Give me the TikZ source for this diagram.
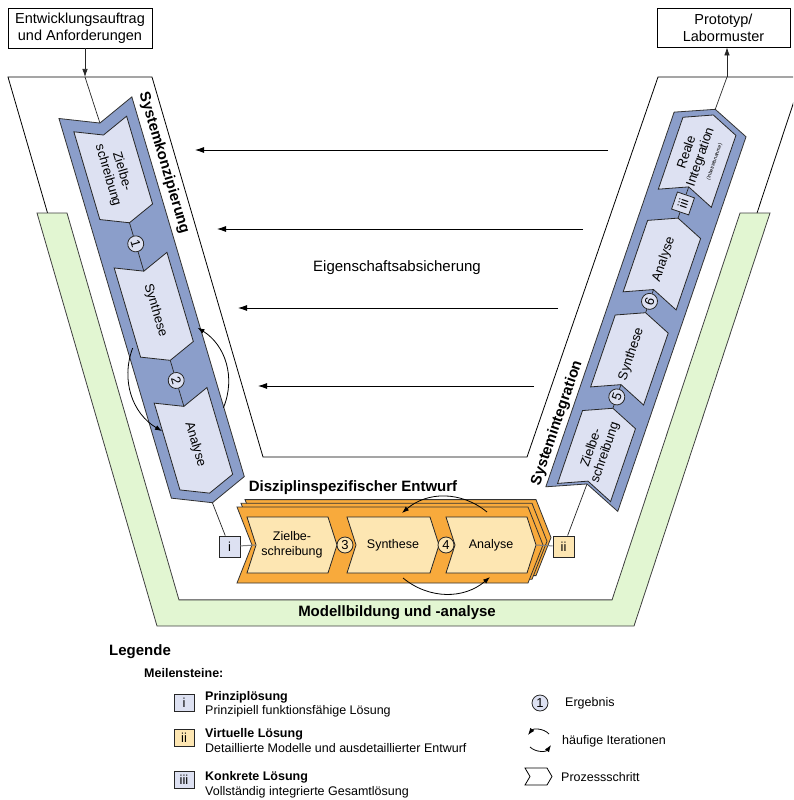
\documentclass[tikz,border=0pt]{standalone}
\usepackage{fontspec}
\setmainfont{Liberation Sans}
\usetikzlibrary{arrows.meta,calc}
\definecolor{bandblue}{RGB}{139,158,202}
\definecolor{boxblue}{RGB}{221,225,242}
\definecolor{bandorange}{RGB}{248,170,60}
\definecolor{boxorange}{RGB}{253,230,178}
\definecolor{bandgreen}{RGB}{226,246,210}
\newcommand\tang{0}
\newcommand\chevron[6]{%
  \draw[#2] (-#3,#4) -- (0,#4+#6) -- (#3,#4) -- (#3,#5) -- (0,#5+#6) -- (-#3,#5) -- cycle;
  \coordinate (#1-n) at (0,#4+#6);
  \coordinate (#1-t) at (0,#5+#6);
  \coordinate (#1) at (0,{(#4+#5+#6)/2});
}
\tikzset{
    link/.style={draw=black!85, line width=0.7pt},
    glink/.style={draw=black!50, line width=1pt},
    wband/.style={draw=black, line width=0.8pt, fill=white},
    gband/.style={draw=black!75, line width=0.8pt, fill=bandgreen},
    bband/.style={draw=black!80, line width=0.8pt, fill=bandblue},
    bbox/.style={draw=black!85, line width=0.8pt, fill=boxblue},
    oband/.style={draw=black!80, line width=0.8pt, fill=bandorange},
    obox/.style={draw=black!85, line width=0.8pt, fill=boxorange},
    chev/.style={draw=black, line width=0.8pt, fill=white},
    steptxt/.style={font=\fontsize{13}{14.5}\selectfont, align=center, rotate=\tang, inner sep=0pt},
    res/.style={circle, draw=black!85, line width=0.8pt, fill=#1, minimum size=16pt, inner sep=0pt,
        font=\fontsize{13}{13}\selectfont, rotate=\tang},
    res/.default=boxblue,
    ms/.style={draw=black!85, line width=0.8pt, fill=#1, minimum size=21pt, inner sep=0pt,
        font=\fontsize{13}{13}\selectfont},
    phase/.style={font=\bfseries\fontsize{15}{18}\selectfont, inner sep=0pt},
    iobox/.style={draw, line width=0.8pt, fill=white, align=center, inner sep=1pt,
        font=\fontsize{14.5}{17}\selectfont},
    check/.style={line width=0.8pt, -{Latex[length=9pt,width=6pt]}},
    iter/.style={line width=0.8pt, -{Latex[length=7pt,width=5pt]}},
    legtxt/.style={font=\fontsize{12.5}{14}\selectfont, anchor=west, inner sep=0pt},
    legbold/.style={legtxt, font=\bfseries\fontsize{12.5}{14}\selectfont}
}

\begin{document}
\begin{tikzpicture}[x=1pt,y=-1pt]
\useasboundingbox (0,0) rectangle (793,800);
\clip (0,0) rectangle (793,800);

\draw[wband] (8,77) -- (152,77) -- (263,457) -- (527,457) -- (658,77) -- (802,77) -- (629,600) -- (160,600) -- cycle;
\draw[gband] (37,213) -- (67,213) -- (179,600) -- (612,600) -- (740,213) -- (770,213) -- (634,626) -- (157,626) -- cycle;
\node[phase] (mod) at (397,613) {Modellbildung und -analyse};

\foreach \y/\xa/\xb in {150/608/195, 229/583/217, 308/558/238, 386/534/258}
    \draw[check] (\xa,\y) -- (\xb,\y);
\node[font=\fontsize{15}{18}\selectfont] (eig) at (397,268) {Eigenschaftsabsicherung};

\node[iobox, minimum width=144pt, minimum height=40pt] (inbox) at (80,28) {Entwicklungsauftrag\\und Anforderungen};
\node[iobox, minimum width=133pt, minimum height=39pt] (outbox) at (723.5,27.5) {Prototyp/\\Labormuster};

% Systemkonzipierung
\begin{scope}[shift={(95.4,107.7)}, rotate=16.5]
    \renewcommand\tang{-73.5}
    \chevron{lb}{bband}{38}{0}{396}{16}
    \chevron{lz}{bbox}{27.5}{17}{108.5}{11.5}
    \chevron{ls}{bbox}{27.5}{159}{252}{11.5}
    \chevron{la}{bbox}{27.5}{300}{390.5}{11.5}
    \node[steptxt] (lz-x) at (lz) {Zielbe-\\schreibung};
    \node[steptxt] (ls-x) at (ls) {Synthese};
    \node[steptxt] (la-x) at (la) {Analyse};
    \node[res] (r1) at (0,142) {1};
    \node[res] (r2) at (0,284.5) {2};
    \draw[link] (lz-t) -- (r1) -- (ls-n);
    \draw[link] (ls-t) -- (r2) -- (la-n);
    \node[phase, rotate=\tang] (kon) at (50,72.5) {Systemkonzipierung};
    \draw[iter] (-32.5,241) to[bend right=40] (-28,329);
    \draw[iter] (37.6,324) to[bend right=40] (35.5,240);
\end{scope}

% Systemintegration
\begin{scope}[shift={(581.8,499.1)}, rotate=161.1]
    \renewcommand\tang{71.1}
    \chevron{rb}{bband}{38}{0}{396}{16}
    \chevron{rz}{bbox}{28}{7}{84}{12}
    \chevron{rs}{bbox}{28}{109}{185}{12}
    \chevron{ra}{bbox}{28}{209.5}{285}{12}
    \chevron{ri}{bbox}{28}{318}{394}{12}
    \node[steptxt] (rz-x) at (rz) {Zielbe-\\schreibung};
    \node[steptxt] (rs-x) at (rs) {Synthese};
    \node[steptxt] (ra-x) at (ra) {Analyse};
    \node[steptxt] (ri-x) at (ri) {Reale\\Integration\\[-2pt]{\fontsize{5}{6}\selectfont(Inbetriebnahme)}};
    \node[res] (r5) at (0,108) {5};
    \node[res] (r6) at (0,209) {6};
    \node[ms=boxblue, minimum size=18pt, rotate=\tang] (m3) at (0,312.5) {iii};
    \draw[link] (rz-t) -- (r5) -- (rs-n);
    \draw[link] (rs-t) -- (r6) -- (ra-n);
    \draw[link] (ra-t) -- (m3) -- (ri-n);
    \node[phase, rotate=\tang] (int) at (48,64) {Systemintegration};
\end{scope}

\coordinate (lin) at (85,77);
\coordinate (rout) at (727,77);
\draw[link, -{Latex[length=8pt,width=5.5pt]}] (inbox.south -| lin) -- (lin);
\draw[link] (lin) -- (lb-n);
\draw[link] (rb-t) -- (rout);
\draw[link, -{Latex[length=8pt,width=5.5pt]}] (rout) -- (outbox.south -| rout);

% Disziplinspezifischer Entwurf
\foreach \k in {2,1,0}{
    \begin{scope}[shift={(4*\k,545-3.7*\k)}, rotate=90]
        \chevron{ob\k}{oband}{38}{237}{528}{15}
    \end{scope}
}
\begin{scope}[shift={(0,545)}, rotate=90]
    \chevron{oz}{obox}{28}{247}{328}{9}
    \chevron{os}{obox}{28}{347}{430}{9}
    \chevron{oa}{obox}{28}{446}{527}{9}
    \node[steptxt, font=\fontsize{12.5}{15}\selectfont] (oz-x) at (oz) {Zielbe-\\schreibung};
    \node[steptxt, font=\fontsize{12.5}{15}\selectfont] (os-x) at (os) {Synthese};
    \node[steptxt, font=\fontsize{12.5}{15}\selectfont] (oa-x) at (oa) {Analyse};
    \node[res=boxorange] (r3) at (0,345) {3};
    \node[res=boxorange] (r4) at (0,446) {4};
\end{scope}
\node[phase] (dis) at (353,488) {Disziplinspezifischer Entwurf};
\draw[iter] (487,512) to[bend right=40] (402,513);
\draw[iter] (403,578) to[bend right=40] (490,577);

\node[ms=boxblue] (m1) at (229.5,546.5) {i};
\node[ms=boxorange] (m2) at (563.5,546.5) {ii};
\draw[glink] (m1) -- (oz-n);
\draw[glink] (oa-t) -- (m2);
\draw[link] (lb-t) -- (m1);
\draw[link] (m2) -- (rb-n);

% Legende
\node[phase, anchor=west] (leg) at (109,652) {Legende};
\node[legbold] (meil) at (144,673) {Meilensteine:};
\foreach \k/\yb/\lab/\col/\yt/\head/\yd/\desc in {
    1/702.5/i/boxblue/697/Prinziplösung/711/Prinzipiell funktionsfähige Lösung,
    2/737.5/ii/boxorange/734/Virtuelle Lösung/748/Detaillierte Modelle und ausdetaillierter Entwurf,
    3/780/iii/boxblue/777/Konkrete Lösung/792/Vollständig integrierte Gesamtlösung}{
    \node[ms=\col, minimum width=20pt, minimum height=17pt] (lm\k) at (184,\yb) {\lab};
    \node[legbold] (lh\k) at (205,\yt) {\head};
    \node[legtxt] (ld\k) at (205,\yd) {\desc};
}
\node[res] (lr) at (540,703) {1};
\node[legtxt] (lrt) at (565,703) {Ergebnis};
\draw[iter] (549,734) to[bend right=50] (528,735);
\draw[iter] (530,747) to[bend right=50] (551,745);
\node[legtxt] (lit) at (562,741) {häufige Iterationen};
\begin{scope}[shift={(0,776.5)}, rotate=90]
    \chevron{lpc}{chev}{8.5}{525}{547}{5}
\end{scope}
\node[legtxt] (lpt) at (561,777) {Prozessschritt};
\end{tikzpicture}
\end{document}
